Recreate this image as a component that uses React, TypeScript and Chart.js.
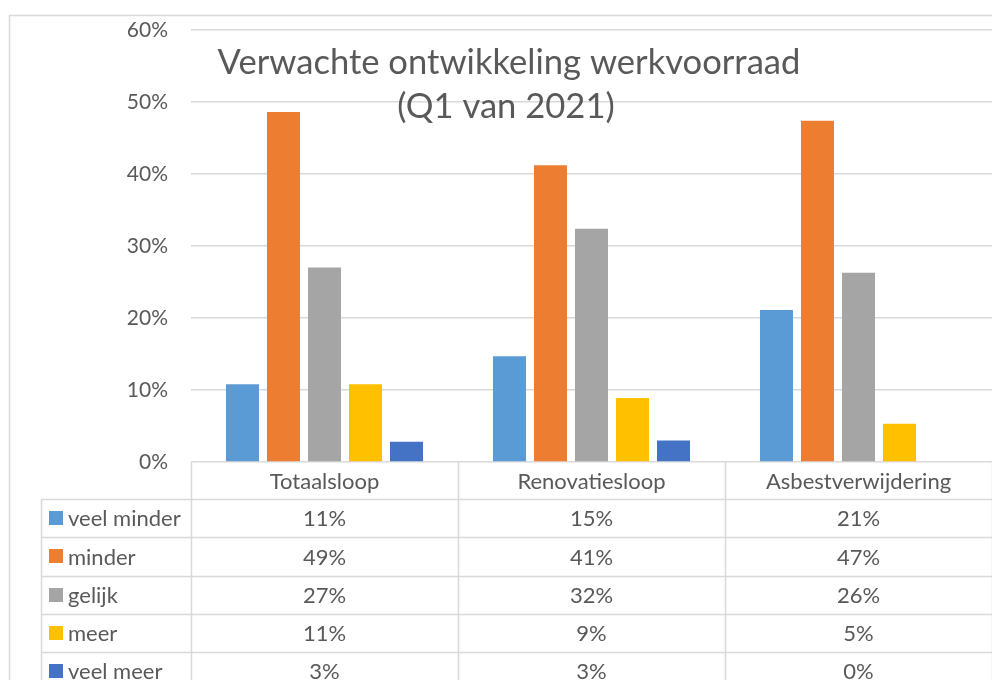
import React, { useEffect, useRef } from "react";
import { Chart, registerables } from "chart.js";

Chart.register(...registerables);

// ---- data ----
const categories = ["Totaalsloop", "Renovatiesloop", "Asbestverwijdering"];
const seriesNames = ["veel minder", "minder", "gelijk", "meer", "veel meer"];
const veelMinder = [10.8, 14.7, 21.1];
const minder = [48.6, 41.2, 47.4];
const gelijk = [27.0, 32.4, 26.3];
const meer = [10.8, 8.9, 5.3];
const veelMeer = [2.8, 3.0, 0];
const titleLines = ["Verwachte ontwikkeling werkvoorraad", "(Q1 van 2021)"];
const yMin = 0;
const yMax = 60;
const yStep = 10;

const seriesValues = [veelMinder, minder, gelijk, meer, veelMeer];
const seriesColors = ["#5B9BD5", "#ED7D31", "#A5A5A5", "#FFC000", "#4472C4"];

const FONT = "Lato, 'Liberation Sans', sans-serif";
const TEXT = "#595959";
const LINE = "#D9D9D9";

const tablePlugin = {
  id: "excelTable",
  afterDraw(chart: any) {
    const ctx = chart.ctx as CanvasRenderingContext2D;
    const area = chart.chartArea;
    const n = categories.length;
    const catW = (area.right - area.left) / n;
    const legendLeft = 41;
    const headerTop = area.bottom;
    const headerH = 37;
    const rowH = 38.3;
    const rowsTop = headerTop + headerH;

    ctx.save();
    // outer chart border
    ctx.strokeStyle = LINE;
    ctx.lineWidth = 1.5;
    ctx.strokeRect(9.5, 15.5, 1100, 800);

    // table lines
    ctx.lineWidth = 1.5;
    ctx.strokeStyle = LINE;
    ctx.beginPath();
    for (let i = 0; i <= n; i++) {
      const x = Math.round(area.left + i * catW) + 0.5;
      ctx.moveTo(x, headerTop);
      ctx.lineTo(x, 700);
    }
    ctx.moveTo(legendLeft + 0.5, rowsTop);
    ctx.lineTo(legendLeft + 0.5, 700);
    for (let r = 0; r <= seriesNames.length; r++) {
      const y = Math.round(rowsTop + r * rowH) + 0.5;
      ctx.moveTo(legendLeft, y);
      ctx.lineTo(area.right + 10, y);
    }
    ctx.stroke();

    // header labels
    ctx.fillStyle = TEXT;
    ctx.font = `22px ${FONT}`;
    ctx.textAlign = "center";
    ctx.textBaseline = "middle";
    const xs = chart.scales.x;
    categories.forEach((c, i) => {
      ctx.fillText(c, xs.getPixelForValue(i), headerTop + headerH / 2 + 1);
    });

    // rows
    seriesNames.forEach((name, r) => {
      const cy = rowsTop + r * rowH + rowH / 2;
      ctx.fillStyle = seriesColors[r];
      ctx.fillRect(49, Math.round(cy - 7), 14, 14);
      ctx.fillStyle = TEXT;
      ctx.textAlign = "left";
      ctx.fillText(name, 68, cy + 1);
      ctx.textAlign = "center";
      seriesValues[r].forEach((v, i) => {
        ctx.fillText(Math.round(v) + "%", xs.getPixelForValue(i), cy + 1);
      });
    });

    // title (overlay)
    ctx.font = `30px ${FONT}`;
    const w = ctx.measureText(titleLines[0]).width;
    const size = (30 * 583) / w;
    ctx.font = `${size}px ${FONT}`;
    ctx.textAlign = "center";
    ctx.textBaseline = "alphabetic";
    ctx.fillStyle = TEXT;
    ctx.fillText(titleLines[0], 509, 74);
    ctx.fillText(titleLines[1], 506, 118);
    ctx.restore();
  },
};

export default function App() {
  const ref = useRef<HTMLCanvasElement>(null);
  useEffect(() => {
    const canvas = ref.current!;
    const chart = new Chart(canvas, {
      type: "bar",
      data: {
        labels: categories,
        datasets: seriesNames.map((name, i) => ({
          label: name,
          data: seriesValues[i],
          backgroundColor: seriesColors[i],
          borderWidth: 0,
          categoryPercentage: 0.768,
          barPercentage: 0.805,
        })),
      },
      options: {
        responsive: false,
        animation: false,
        layout: { padding: { left: 0, right: 0, top: 30, bottom: 218 } },
        plugins: {
          legend: { display: false },
          title: { display: false },
          tooltip: { enabled: false },
        },
        scales: {
          x: { display: false },
          y: {
            min: yMin,
            max: yMax,
            ticks: {
              stepSize: yStep,
              callback: (v: any) => v + "%",
              color: TEXT,
              font: { family: FONT, size: 21 },
              padding: 23,
            },
            grid: { color: LINE, lineWidth: 1.5, drawTicks: false },
            border: { display: false },
            afterFit: (s: any) => {
              s.width = 191;
              s.paddingTop = 0;
              s.paddingBottom = 0;
            },
          },
        },
      } as any,
      plugins: [tablePlugin],
    });
    return () => chart.destroy();
  }, []);
  return (
    <div style={{ position: "fixed", left: 0, top: 0, width: 992, height: 680, background: "#fff", overflow: "hidden" }}>
      <canvas ref={ref} width={992} height={680} style={{ display: "block" }} />
    </div>
  );
}
